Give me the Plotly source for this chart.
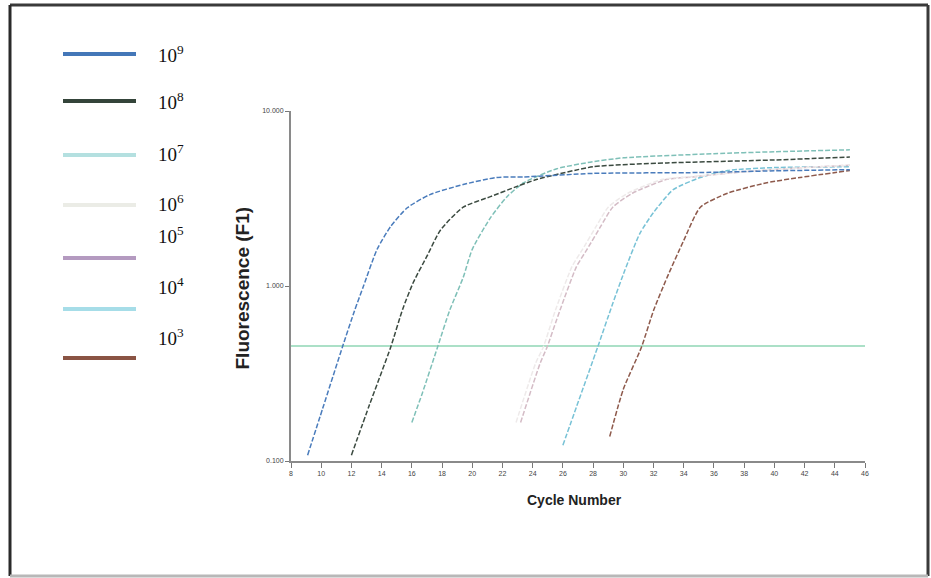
import plotly.graph_objects as go

# amplification curves (cycle, fluorescence F1)
cyc_1e9 = [9.1, 10.1, 11.4, 12.2, 12.8, 13.7, 14.6, 15.7, 17.2, 19.4, 21.6, 23.4, 28, 35, 40, 45]
flu_1e9 = [0.108, 0.200, 0.447, 0.720, 1.00, 1.62, 2.19, 2.80, 3.33, 3.80, 4.17, 4.20, 4.40, 4.45, 4.55, 4.62]

cyc_1e8 = [12.0, 13.2, 14.6, 15.4, 16.1, 17.0, 17.9, 19.4, 21.2, 23.0, 24.3, 28, 32.9, 40, 45]
flu_1e8 = [0.108, 0.210, 0.447, 0.740, 1.05, 1.48, 2.09, 2.82, 3.24, 3.72, 4.07, 4.80, 5.05, 5.25, 5.46]

cyc_1e7 = [16.0, 16.7, 17.7, 18.5, 19.4, 20.0, 21.2, 22.3, 23.4, 25.6, 27.8, 30, 36, 40, 45]
flu_1e7 = [0.166, 0.245, 0.447, 0.724, 1.12, 1.62, 2.45, 3.24, 3.89, 4.68, 5.10, 5.40, 5.70, 5.85, 6.00]

cyc_1e6 = [22.9, 24.2, 24.7, 25.5, 26.6, 27.3, 28.2, 29.0, 30.3, 32.6, 34.3, 38, 42, 45]
flu_1e6 = [0.166, 0.363, 0.447, 0.724, 1.29, 1.62, 2.19, 2.82, 3.39, 4.07, 4.20, 4.50, 4.75, 4.90]

cyc_1e5 = [23.2, 24.5, 24.95, 25.8, 26.9, 27.6, 28.5, 29.3, 30.6, 32.9, 34.6, 38, 42, 45]
flu_1e5 = [0.166, 0.363, 0.447, 0.724, 1.29, 1.62, 2.19, 2.82, 3.39, 4.07, 4.20, 4.50, 4.75, 4.90]

cyc_1e4 = [26.0, 26.9, 28.3, 29.3, 30.1, 31.1, 32.0, 33.3, 35.1, 36.9, 40, 45]
flu_1e4 = [0.123, 0.204, 0.447, 0.794, 1.23, 2.00, 2.63, 3.55, 4.17, 4.57, 4.75, 4.80]

cyc_1e3 = [29.1, 30.0, 31.2, 32.0, 32.9, 34.0, 35.1, 36.9, 39.5, 41.7, 45]
flu_1e3 = [0.138, 0.257, 0.447, 0.724, 1.12, 1.82, 2.82, 3.39, 3.89, 4.17, 4.57]

threshold_x = [8, 46]
threshold_y = [0.454, 0.454]

labels = ["10<sup>9</sup>", "10<sup>8</sup>", "10<sup>7</sup>", "10<sup>6</sup>",
          "10<sup>5</sup>", "10<sup>4</sup>", "10<sup>3</sup>"]
colors = ["#4477b8", "#34443a", "#b4e0e0", "#ebece6", "#b49ac0", "#a6dde8", "#8a5444"]
line_colors = ["#4a7cbc", "#3b4a40", "#7fc0b8", "#eeeaea", "#d4bcc6", "#78c2d6", "#8e5a4c"]
series = [(cyc_1e9, flu_1e9), (cyc_1e8, flu_1e8), (cyc_1e7, flu_1e7), (cyc_1e6, flu_1e6),
          (cyc_1e5, flu_1e5), (cyc_1e4, flu_1e4), (cyc_1e3, flu_1e3)]

x_ticks = list(range(8, 47, 2))

# plot area in pixels, used to place the hand-drawn legend and frame
L, R, T, B = 291, 865, 111, 461
def px(x):
    return (x - L) / (R - L)
def py(y):
    return (B - y) / (B - T)

fig = go.Figure()

fig.add_trace(go.Scatter(x=threshold_x, y=threshold_y, mode="lines",
                         line=dict(color="#8fd6b4", width=1.3), hoverinfo="skip"))

# draw the late curves first so the early ones sit on top
for i in reversed(range(len(series))):
    cx, cy = series[i]
    fig.add_trace(go.Scatter(x=cx, y=cy, mode="lines", name=labels[i],
                             line=dict(color=line_colors[i], width=1.5, dash="5px,2px",
                                       shape="spline", smoothing=0.6)))

fig.update_layout(
    width=931, height=578,
    margin=dict(l=L, r=931 - R, t=T, b=578 - B),
    paper_bgcolor="white", plot_bgcolor="white",
    showlegend=False,
    xaxis=dict(range=[8, 46], tickvals=x_ticks, showgrid=False, zeroline=False,
               showline=True, linecolor="#8a8a8a", linewidth=2,
               ticks="outside", ticklen=5, tickcolor="#777",
               tickfont=dict(size=7, color="#444", family="Arial")),
    yaxis=dict(type="log", range=[-1, 1], tickvals=[0.1, 1, 10],
               ticktext=["0.100", "1.000", "10.000"], showgrid=False, zeroline=False,
               showline=True, linecolor="#8a8a8a", linewidth=2,
               ticks="outside", ticklen=4, tickcolor="#777",
               tickfont=dict(size=7, color="#444", family="Arial")),
)

# axis titles
fig.add_annotation(x=px(229), y=py(288), xref="paper", yref="paper", text="<b>Fluorescence (F1)</b>",
                   textangle=-90, showarrow=False, font=dict(size=19, family="Arial", color="#222"))
fig.add_annotation(x=px(574), y=py(510), xref="paper", yref="paper", text="<b>Cycle Number</b>",
                   showarrow=False, font=dict(size=14, family="Arial", color="#222"))

# legend drawn by hand: coloured bar plus serif label
leg_line_y = [54, 101, 155, 205, 258, 309, 358]
leg_text_y = [40, 87, 139, 189, 235, 286, 337]
for i, lab in enumerate(labels):
    fig.add_shape(type="line", xref="paper", yref="paper",
                  x0=px(63), x1=px(136), y0=py(leg_line_y[i]), y1=py(leg_line_y[i]),
                  line=dict(color=colors[i], width=4))
    fig.add_annotation(x=px(156), y=py(leg_text_y[i]), xref="paper", yref="paper", text=lab,
                       xanchor="left", showarrow=False,
                       font=dict(size=19, family="Liberation Serif, Times New Roman, serif", color="#111"))

# outer frame of the picture
frame = [(10, 5, 928, 5, "#3a3a3a"), (10, 5, 10, 576, "#2a2a2a"),
         (928, 5, 928, 576, "#3a3a3a"), (10, 576, 928, 576, "#b8b8b8")]
for x0, y0, x1, y1, c in frame:
    fig.add_shape(type="line", xref="paper", yref="paper",
                  x0=px(x0), x1=px(x1), y0=py(y0), y1=py(y1), line=dict(color=c, width=3))

# page has a default body margin; remove it so the figure sits at the window origin
fig.write_html("out.html", config={"displayModeBar": False},
               post_script="document.body.style.margin='0px';")
